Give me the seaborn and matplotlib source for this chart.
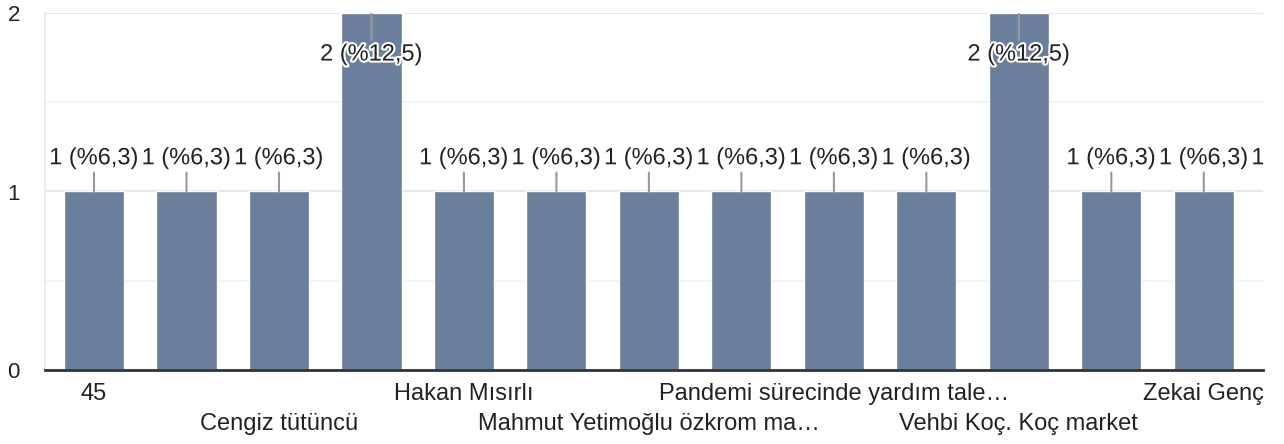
import matplotlib
matplotlib.use("Agg")
import matplotlib.pyplot as plt
import matplotlib.patheffects as pe
import seaborn as sns

# Data (responses per answer, 14 answers, last one cut off)
categories = ["45", "yanıt 2", "Cengiz tütüncü", "yanıt 4", "Hakan Mısırlı", "yanıt 6",
              "Mahmut Yetimoğlu özkrom ma…", "yanıt 8", "Pandemi sürecinde yardım tale…",
              "yanıt 10", "Vehbi Koç. Koç market", "yanıt 12", "Zekai Genç", "yanıt 14"]
counts = [1, 1, 1, 2, 1, 1, 1, 1, 1, 1, 2, 1, 1, 1]
percents = ["6,3", "6,3", "6,3", "12,5", "6,3", "6,3", "6,3", "6,3", "6,3", "6,3",
            "12,5", "6,3", "6,3", "6,3"]
# only every other answer has a visible label on the axis
tick_labels = ["45", "", "Cengiz tütüncü", "", "Hakan Mısırlı", "",
               "Mahmut Yetimoğlu özkrom ma…", "", "Pandemi sürecinde yardım tale…",
               "", "Vehbi Koç. Koç market", "", "Zekai Genç", ""]
y_ticks = [0, 1, 2]

bar_color = "#6a7f9b"
text_color = "#222222"

sns.set_theme(style="white")
plt.rcParams['font.family'] = ['Liberation Sans', 'DejaVu Sans']

fig = plt.figure(figsize=(12.84, 4.44), dpi=100)
ax = fig.add_axes([45 / 1284, 74 / 444, (1263 - 45) / 1284, (370 - 13) / 444])

sns.barplot(x=categories, y=counts, color=bar_color, saturation=1, width=0.65, ax=ax)

# grid
ax.set_yticks(y_ticks)
ax.set_yticks([0.5, 1.5], minor=True)
ax.yaxis.grid(True, which="major", color="#e8e8e8", lw=1.5)
ax.yaxis.grid(True, which="minor", color="#f3f3f3", lw=1.5)
ax.set_axisbelow(True)

for s in ["top", "right"]:
    ax.spines[s].set_visible(False)
ax.spines["left"].set_color("#ececec")
ax.spines["left"].set_linewidth(1.5)
ax.spines["bottom"].set_color("#333333")
ax.spines["bottom"].set_linewidth(2)
ax.spines["bottom"].set_zorder(5)

ax.set_xlabel("")
ax.set_ylabel("")
ax.set_yticklabels([str(t) for t in y_ticks], fontsize=16, color=text_color)
ax.tick_params(axis="y", length=0, pad=18)

ax.set_xticks(range(len(categories)))
ax.set_xticklabels(tick_labels, fontsize=17, color=text_color)
ax.tick_params(axis="x", length=0)
for i, t in enumerate(ax.xaxis.get_major_ticks()):
    t.set_pad(9 if (i // 2) % 2 == 0 else 31)

# the last answer runs off the right edge, as in the original
ax.set_xlim(-0.53, 12.64)
ax.set_ylim(0, 2)

# value labels with small leader lines
top = max(counts)
outline = [pe.withStroke(linewidth=3, foreground="white")]
for i, (v, p) in enumerate(zip(counts, percents)):
    label = f"{v} (%{p})"
    if v < top:
        ann = ax.annotate(label, xy=(i, v), xytext=(0, 16), textcoords="offset points",
                          ha="center", va="bottom", fontsize=17, color=text_color,
                          annotation_clip=False,
                          arrowprops=dict(arrowstyle="-", color="#999999", lw=1.5,
                                          shrinkA=0, shrinkB=0))
    else:
        ann = ax.annotate(label, xy=(i, v), xytext=(0, -22), textcoords="offset points",
                          ha="center", va="top", fontsize=17, color=text_color,
                          annotation_clip=False,
                          arrowprops=dict(arrowstyle="-", color="#999999", lw=1.5,
                                          shrinkA=0, shrinkB=0))
    ann.set_path_effects(outline)
    ann.set_clip_path(ax.patch)
    ann.arrow_patch.set_clip_path(ax.patch)

fig.savefig("out.png", dpi=100, facecolor="white")
